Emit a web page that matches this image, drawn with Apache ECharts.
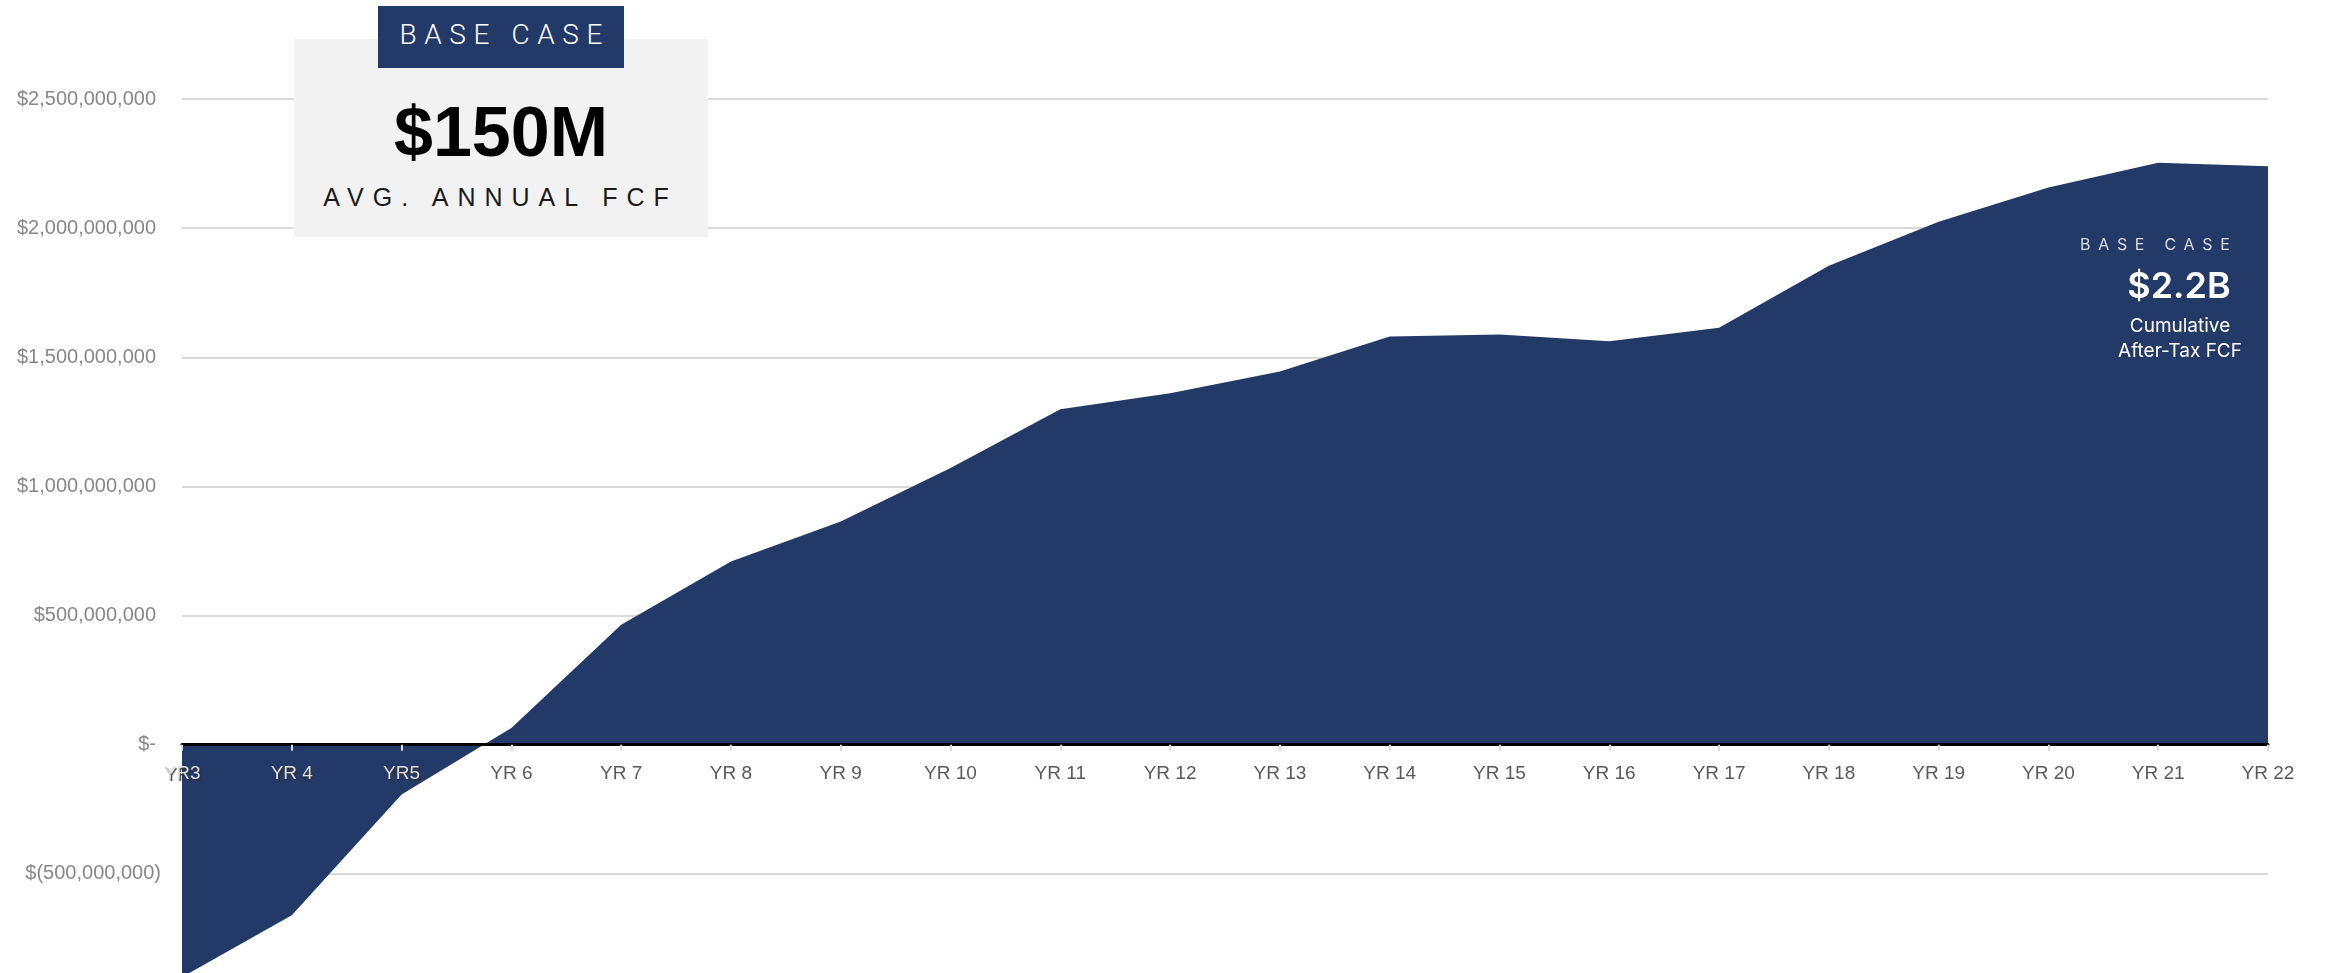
<!DOCTYPE html>
<html>
<head>
<meta charset="utf-8">
<script src="https://cdn.jsdelivr.net/npm/echarts@6/dist/echarts.min.js"></script>
<style>
  html, body { margin: 0; padding: 0; background: #ffffff; }
  #wrap { position: relative; width: 2328px; height: 973px; overflow: hidden; }
  #chart { position: absolute; left: 0; top: 0; width: 2328px; height: 973px; }
  .ann { position: absolute; line-height: 1; white-space: nowrap; }
</style>
</head>
<body>
<div id="wrap">
  <div id="chart"></div>
  <!-- top-left callout -->
  <div class="ann" style="left:294px;top:39px;width:414px;height:198px;background:#f2f2f2;"></div>
  <div class="ann" style="left:378px;top:6px;width:246px;height:62px;background:#233a68;"></div>
  <div class="ann" style="left:378px;top:21px;width:246px;text-align:center;font-family:Roboto,'Liberation Sans',sans-serif;font-weight:300;font-size:28px;letter-spacing:7.6px;padding-left:7.6px;box-sizing:border-box;color:#ffffff;">BASE CASE</div>
  <div class="ann" style="left:294px;top:97px;width:414px;text-align:center;font-family:'Liberation Sans',Arial,sans-serif;font-weight:bold;font-size:70px;color:#000000;">$150M</div>
  <div class="ann" style="left:294px;top:185px;width:404px;text-align:center;font-family:'Liberation Sans',Arial,sans-serif;font-size:25px;letter-spacing:9px;padding-left:9px;box-sizing:border-box;color:#1a1a1a;">AVG. ANNUAL FCF</div>
  <!-- right callout -->
  <div class="ann" style="left:2080px;top:236px;font-family:Inter,sans-serif;font-size:16px;letter-spacing:7.7px;color:#dcdcdc;">BASE CASE</div>
  <div class="ann" style="left:2079px;top:267px;width:200px;text-align:center;font-family:Inter,sans-serif;font-weight:600;font-size:36px;color:#ffffff;">$2.2B</div>
  <div class="ann" style="left:2080px;top:316px;width:200px;text-align:center;font-family:Inter,sans-serif;font-size:19px;color:#ffffff;">Cumulative</div>
  <div class="ann" style="left:2080px;top:341px;width:200px;text-align:center;font-family:Inter,sans-serif;font-size:19px;color:#ffffff;">After-Tax FCF</div>
</div>
<script>
// ---- data ----
const categories = ['YR3', 'YR 4', 'YR5', 'YR 6', 'YR 7', 'YR 8', 'YR 9', 'YR 10', 'YR 11', 'YR 12',
  'YR 13', 'YR 14', 'YR 15', 'YR 16', 'YR 17', 'YR 18', 'YR 19', 'YR 20', 'YR 21', 'YR 22'];
const cumulativeFCF = [-900e6, -660e6, -193e6, 65e6, 464e6, 709e6, 864e6, 1071e6, 1299e6, 1361e6,
  1445e6, 1580e6, 1588e6, 1562e6, 1614e6, 1854e6, 2025e6, 2157e6, 2253e6, 2240e6];
const yMin = -1000000000;
const yMax = 2500000000;
const yStep = 500000000;
const shadowedLabels = ['YR3', 'YR 4', 'YR5'];

// ---- chart ----
const chart = echarts.init(document.getElementById('chart'), null, { renderer: 'canvas' });

function fmtMoney(v) {
  if (v === 0) return '{p|$-}';
  const s = Math.abs(v).toLocaleString('en-US');
  return v < 0 ? '{n|$(' + s + ')}' : '{p|$' + s + '}';
}

const labelBase = { fontFamily: "'Liberation Sans', Arial, sans-serif", fontSize: 20, color: '#878787' };

const catData = categories.map(c => shadowedLabels.indexOf(c) >= 0
  ? { value: c, textStyle: { color: '#dedede', textShadowColor: 'rgba(50,50,50,0.95)', textShadowOffsetX: 1.5, textShadowOffsetY: 1.5, textShadowBlur: 1 } }
  : c);

chart.setOption({
  animation: false,
  backgroundColor: '#ffffff',
  grid: { left: 182, right: 60, top: 99, bottom: -30, containLabel: false, outerBoundsMode: 'none' },
  xAxis: [{
    // axis line and ticks, sitting on the zero level
    type: 'category',
    data: catData,
    boundaryGap: false,
    z: 10,
    axisLine: { show: true, onZero: true, lineStyle: { color: '#000000', width: 3 } },
    axisTick: { show: true, length: 6, lineStyle: { color: '#d9d9d9', width: 2 } },
    axisLabel: { show: false },
    splitLine: { show: false }
  }, {
    // category labels, moved up to the zero level below
    type: 'category',
    data: catData,
    boundaryGap: false,
    position: 'bottom',
    offset: 0,
    z: 11,
    axisLine: { show: false, onZero: false },
    axisTick: { show: false },
    axisLabel: { show: true, color: '#595959', fontSize: 19, fontFamily: "'Liberation Sans', Arial, sans-serif", margin: 20 },
    splitLine: { show: false }
  }],
  yAxis: {
    type: 'value',
    min: yMin,
    max: yMax,
    interval: yStep,
    axisLine: { show: false },
    axisTick: { show: false },
    splitLine: { show: true, lineStyle: { color: '#d9d9d9', width: 2 } },
    axisLabel: {
      margin: 21,
      formatter: fmtMoney,
      rich: {
        p: Object.assign({ padding: [0, 5, 0, 0] }, labelBase),
        n: Object.assign({}, labelBase)
      }
    }
  },
  series: [{
    type: 'line',
    data: cumulativeFCF,
    symbol: 'none',
    lineStyle: { width: 0, color: '#233a68' },
    areaStyle: { color: '#233a68', opacity: 1 },
    itemStyle: { color: '#233a68' },
    z: 2
  }]
});

// place the label axis on the zero level, using the value axis' own scale
const zeroY = chart.convertToPixel({ yAxisIndex: 0 }, 0);
const bottomY = chart.convertToPixel({ yAxisIndex: 0 }, yMin);
chart.setOption({ xAxis: [{}, { offset: -(bottomY - zeroY) }] });
</script>
</body>
</html>
